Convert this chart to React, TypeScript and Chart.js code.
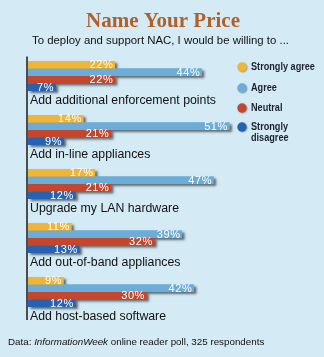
import React, { useEffect, useRef } from "react";
import { Chart, registerables } from "chart.js";
Chart.register(...registerables);

const categories = [
  "Add additional enforcement points",
  "Add in-line appliances",
  "Upgrade my LAN hardware",
  "Add out-of-band appliances",
  "Add host-based software",
];
const seriesNames = ["Strongly agree", "Agree", "Neutral", "Strongly disagree"];
const legendLines = [["Strongly agree"], ["Agree"], ["Neutral"], ["Strongly", "disagree"]];
const stronglyAgree = [22, 14, 17, 11, 9];
const agree = [44, 51, 47, 39, 42];
const neutral = [22, 21, 21, 32, 30];
const stronglyDisagree = [7, 9, 12, 13, 12];
const colors = ["#f2b433", "#6badd8", "#c4472d", "#2562b2"];
const titleText = "Name Your Price";
const subtitleText = "To deploy and support NAC, I would be willing to ...";
const sourcePrefix = "Data: ";
const sourceItalic = "InformationWeek";
const sourceRest = " online reader poll, 325 respondents";

const BG = "#d4ebf6";
const SANS = '"Liberation Sans", Arial, sans-serif';

const decorPlugin = {
  id: "decor",
  beforeDraw(chart: any) {
    const ctx = chart.ctx;
    ctx.save();
    ctx.fillStyle = BG;
    ctx.fillRect(0, 0, chart.width, chart.height);
    // title
    ctx.fillStyle = "#b0612b";
    ctx.font = 'bold 21px "Liberation Serif", serif';
    ctx.textAlign = "center";
    ctx.textBaseline = "alphabetic";
    ctx.fillText(titleText, 163, 27);
    // subtitle
    ctx.fillStyle = "#111";
    ctx.font = `11.4px ${SANS}`;
    ctx.fillText(subtitleText, 160.5, 44);
    // footnote
    ctx.textAlign = "left";
    ctx.font = `9.8px ${SANS}`;
    let x = 8;
    ctx.fillText(sourcePrefix, x, 345);
    x += ctx.measureText(sourcePrefix).width;
    ctx.font = `italic 9.8px ${SANS}`;
    ctx.fillText(sourceItalic, x, 345);
    x += ctx.measureText(sourceItalic).width;
    ctx.font = `9.8px ${SANS}`;
    ctx.fillText(sourceRest, x, 345);
    // legend
    const dotYs = [67, 88, 108, 127];
    for (let i = 0; i < 4; i++) {
      ctx.save();
      ctx.shadowColor = "rgba(0,0,0,0.35)";
      ctx.shadowBlur = 1.5;
      ctx.shadowOffsetX = 0.8;
      ctx.shadowOffsetY = 0.8;
      ctx.beginPath();
      ctx.arc(242, dotYs[i], 4.7, 0, Math.PI * 2);
      ctx.fillStyle = colors[i];
      ctx.fill();
      ctx.restore();
      ctx.save();
      ctx.fillStyle = "#1b2030";
      ctx.font = `bold 11px ${SANS}`;
      ctx.textBaseline = "middle";
      ctx.translate(251, dotYs[i]);
      ctx.scale(0.83, 1);
      legendLines[i].forEach((ln, k) => ctx.fillText(ln, 0, k * 10.5));
      ctx.restore();
    }
    ctx.restore();
  },
  beforeDatasetsDraw(chart: any) {
    const ctx = chart.ctx;
    ctx.save();
    ctx.shadowColor = "rgba(0,0,0,0.55)";
    ctx.shadowBlur = 2.5;
    ctx.shadowOffsetX = 2.5;
    ctx.shadowOffsetY = 2;
    for (let i = 0; i < 4; i++) {
      const meta = chart.getDatasetMeta(i);
      meta.data.forEach((el: any) => {
        const p = el.getProps(["x", "y", "base", "height"], true);
        ctx.fillStyle = colors[i];
        ctx.fillRect(p.base, p.y - p.height / 2, p.x - p.base, p.height);
      });
    }
    ctx.restore();
  },
  afterDatasetsDraw(chart: any) {
    const ctx = chart.ctx;
    const area = chart.chartArea;
    ctx.save();
    // axis line
    ctx.strokeStyle = "#1a1a1a";
    ctx.lineWidth = 1.5;
    ctx.beginPath();
    ctx.moveTo(area.left - 1, area.top);
    ctx.lineTo(area.left - 1, 320);
    ctx.stroke();
    // value labels
    ctx.font = `11px ${SANS}`;
    (ctx as any).letterSpacing = "0.6px";
    ctx.fillStyle = "#ffffff";
    ctx.textAlign = "right";
    ctx.textBaseline = "middle";
    for (let i = 0; i < 4; i++) {
      const meta = chart.getDatasetMeta(i);
      const vals = chart.data.datasets[i].data;
      meta.data.forEach((el: any, j: number) => {
        const p = el.getProps(["x", "y"], true);
        ctx.fillText(`${vals[j]}%`, p.x - 1.5, p.y + 0.5);
      });
    }
    (ctx as any).letterSpacing = "0px";
    // category labels
    ctx.fillStyle = "#111";
    ctx.font = `12.3px ${SANS}`;
    ctx.textAlign = "left";
    ctx.textBaseline = "alphabetic";
    const meta0 = chart.getDatasetMeta(0);
    meta0.data.forEach((el: any, j: number) => {
      const p = el.getProps(["y", "height"], true);
      const top = p.y - p.height / 2;
      ctx.fillText(categories[j], 30, top + 43);
    });
    ctx.restore();
  },
};

export default function App() {
  const ref = useRef<HTMLCanvasElement>(null);
  useEffect(() => {
    if (!ref.current) return;
    const series = [stronglyAgree, agree, neutral, stronglyDisagree];
    const datasets: any[] = series.map((d, i) => ({
      label: seriesNames[i],
      data: d,
      backgroundColor: colors[i],
      borderWidth: 0,
      categoryPercentage: 45 / 54,
      barPercentage: 1,
    }));
    // spacer slots reserving room for the category label under each group
    for (let k = 0; k < 2; k++) {
      datasets.push({
        label: "",
        data: categories.map(() => null),
        backgroundColor: "transparent",
        categoryPercentage: 45 / 54,
        barPercentage: 1,
      });
    }
    const chart = new Chart(ref.current, {
      type: "bar",
      data: { labels: categories, datasets },
      options: {
        indexAxis: "y",
        animation: false,
        responsive: false,
        devicePixelRatio: 1,
        layout: { padding: { left: 28, right: 59, top: 56.5, bottom: 30.5 } },
        scales: {
          x: { min: 0, max: 60, display: false },
          y: { display: false },
        },
        plugins: {
          legend: { display: false },
          tooltip: { enabled: false },
        },
      },
      plugins: [decorPlugin],
    });
    return () => chart.destroy();
  }, []);
  return (
    <div style={{ position: "fixed", left: 0, top: 0, width: 324, height: 357, background: BG }}>
      <canvas ref={ref} width={324} height={357} style={{ width: 324, height: 357, display: "block" }} />
    </div>
  );
}
